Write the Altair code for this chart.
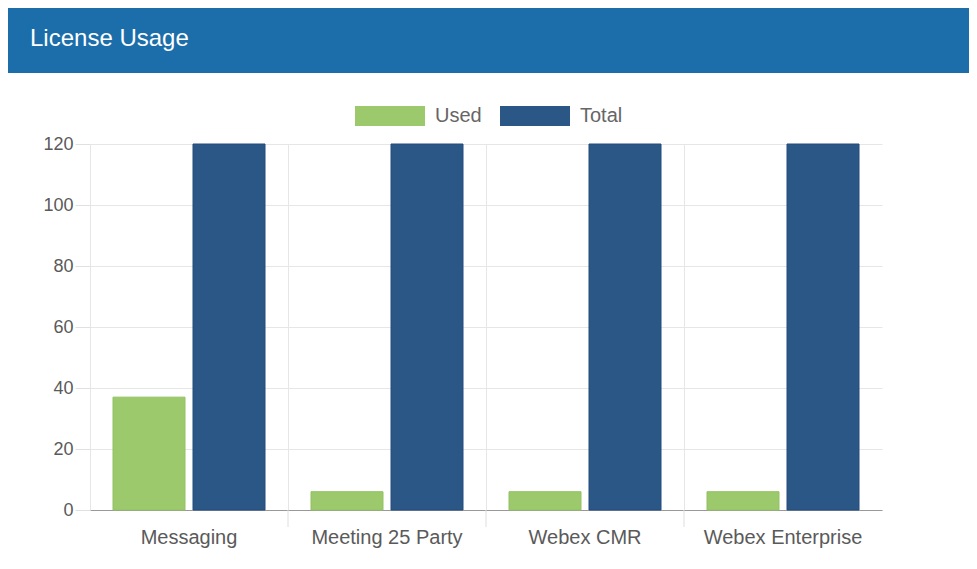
import altair as alt
import pandas as pd

categories = ["Messaging", "Meeting 25 Party", "Webex CMR", "Webex Enterprise"]
used = [37, 6, 6, 6]
total = [120, 120, 120, 120]
series = ["Used", "Total"]
fill_colors = ["#9BC96B", "#2B5787"]
stroke_colors = ["#93C263", "#224C7C"]
y_ticks = [0, 20, 40, 60, 80, 100, 120]
header_title = "License Usage"

rows = []
for c, u, t in zip(categories, used, total):
    rows.append({"category": c, "series": "Used", "value": u})
    rows.append({"category": c, "series": "Total", "value": t})
df = pd.DataFrame(rows)
cat_df = pd.DataFrame({"category": categories})

W, H = 792, 366
PAD_L, PAD_T, PAD_R, PAD_B = 82, 136, 87, 50
FONT = "Liberation Sans"
GRID = "#e6e6e6"

x_scale = alt.Scale(paddingInner=0, paddingOuter=0)

bars = alt.Chart(df).mark_bar(strokeWidth=1).encode(
    x=alt.X(
        "category:N",
        sort=categories,
        scale=x_scale,
        axis=alt.Axis(
            title=None,
            bandPosition=0,
            grid=True,
            gridColor=GRID,
            ticks=False,
            labelAngle=0,
            labelAlign="center",
            labelPadding=17,
            labelOverlap=False,
            labelBound=False,
            labelFlush=False,
            labelFontSize=20,
            labelFont=FONT,
            labelColor="#5a5a5a",
            domainColor="#999999",
            domainWidth=1,
        ),
    ),
    xOffset=alt.XOffset(
        "series:N",
        sort=series,
        scale=alt.Scale(paddingInner=0.1, paddingOuter=0.2875),
    ),
    y=alt.Y(
        "value:Q",
        scale=alt.Scale(domain=[0, 120], nice=False),
        axis=alt.Axis(
            title=None,
            values=y_ticks,
            grid=True,
            gridColor=GRID,
            tickColor="#e0e0e0",
            tickSize=15,
            domain=False,
            labelPadding=2,
            labelFontSize=18,
            labelFont=FONT,
            labelColor="#5a5a5a",
        ),
    ),
    color=alt.Color(
        "series:N",
        sort=series,
        scale=alt.Scale(domain=series, range=fill_colors),
        legend=alt.Legend(
            title=None,
            orient="none",
            legendX=265,
            legendY=-63,
            direction="horizontal",
            symbolType="M-1,-0.2857L1,-0.2857L1,0.2857L-1,0.2857Z",
            symbolSize=4900,
            symbolStrokeWidth=0,
            symbolOpacity=1,
            labelFontSize=20,
            labelFont=FONT,
            labelColor="#666666",
            labelOffset=10,
            columnPadding=18,
            padding=0,
        ),
    ),
    stroke=alt.Stroke(
        "series:N",
        sort=series,
        scale=alt.Scale(domain=series, range=stroke_colors),
        legend=None,
    ),
)

xticks = alt.Chart(cat_df).transform_filter(
    alt.datum.category != categories[0]
).mark_rule(color="#dedede", strokeWidth=1).encode(
    x=alt.X("category:N", sort=categories, scale=x_scale, bandPosition=0),
    y=alt.value(H),
    y2=alt.value(H + 17),
)

one = pd.DataFrame({"k": [0]})
header = alt.Chart(one).mark_rect(color="#1B6EA9").encode(
    x=alt.value(-PAD_L),
    x2=alt.value(W + PAD_R),
    y=alt.value(-PAD_T),
    y2=alt.value(-71),
)
header_text = alt.Chart(one).mark_text(
    text=header_title,
    color="#ffffff",
    font=FONT,
    fontSize=24,
    align="left",
    baseline="alphabetic",
).encode(
    x=alt.value(-60),
    y=alt.value(-98),
)

chart = alt.layer(header, header_text, bars, xticks).properties(
    width=W,
    height=H,
    autosize=alt.AutoSizeParams(type="none"),
    padding={"left": PAD_L, "top": PAD_T, "right": PAD_R, "bottom": PAD_B},
    background="#ffffff",
).configure_view(stroke=None)

chart.save("out.html", embed_options={"renderer": "svg", "actions": False})
